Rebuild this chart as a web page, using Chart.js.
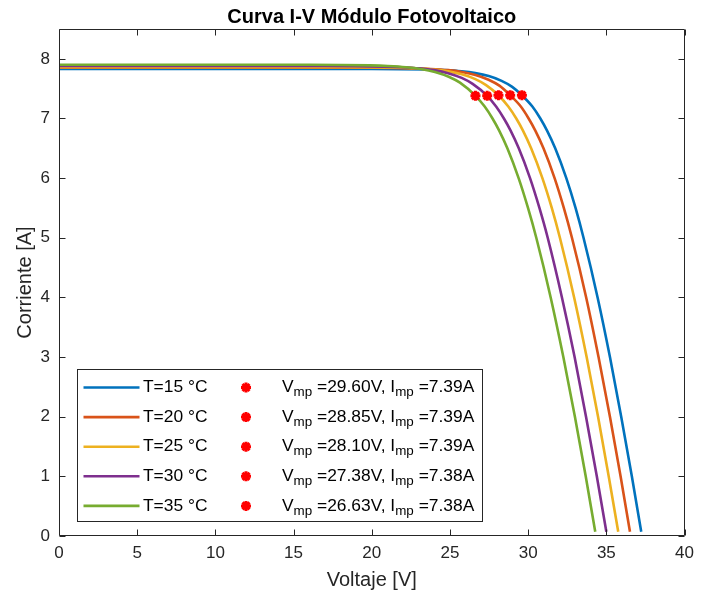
<!DOCTYPE html>
<html><head><meta charset="utf-8">
<script src="https://cdn.jsdelivr.net/npm/chart.js@4.4.1/dist/chart.umd.min.js"></script>
<style>html,body{margin:0;padding:0;background:#fff}</style>
</head><body>
<canvas id="c" width="701" height="595" style="width:701px;height:595px;display:block"></canvas>
<script>
// ---- data ----
const seriesLabels = ['T=15 °C', 'T=20 °C', 'T=25 °C', 'T=30 °C', 'T=35 °C'];
const colors = ['#0072BD', '#D95319', '#EDB120', '#7E2F8E', '#77AC30'];

const v15 = [0, 10, 20, 23.58, 24.66, 25.74, 26.62, 27.48, 28.30, 28.98, 29.60, 30.27, 30.78, 31.20, 31.73, 32.44, 33.03, 33.54, 34.44, 35.23, 35.95, 36.63, 37.23];
const i15 = [7.83, 7.83, 7.83, 7.82, 7.81, 7.79, 7.76, 7.71, 7.63, 7.53, 7.39, 7.20, 7.00, 6.80, 6.50, 6.00, 5.50, 5.00, 4.00, 3.00, 2.00, 1.00, 0.07];

const v20 = [0, 10, 20, 22.67, 23.76, 24.87, 25.76, 26.63, 27.47, 28.16, 28.85, 29.53, 30.03, 30.45, 30.98, 31.69, 32.28, 32.80, 33.71, 34.50, 35.23, 35.91, 36.51];
const i20 = [7.85, 7.85, 7.85, 7.84, 7.83, 7.81, 7.78, 7.73, 7.65, 7.55, 7.39, 7.20, 7.00, 6.80, 6.50, 6.00, 5.50, 5.00, 4.00, 3.00, 2.00, 1.00, 0.07];

const v25 = [0, 10, 18, 21.73, 22.85, 23.97, 24.88, 25.76, 26.62, 27.31, 28.10, 28.73, 29.24, 29.66, 30.19, 30.91, 31.51, 32.03, 32.94, 33.74, 34.47, 35.15, 35.76];
const i25 = [7.86, 7.86, 7.86, 7.85, 7.84, 7.82, 7.79, 7.74, 7.66, 7.56, 7.39, 7.20, 7.00, 6.80, 6.50, 6.00, 5.50, 5.00, 4.00, 3.00, 2.00, 1.00, 0.07];

const v30 = [0, 10, 17, 20.78, 21.91, 23.05, 23.98, 24.88, 25.75, 26.45, 27.38, 27.95, 28.45, 28.87, 29.40, 30.12, 30.72, 31.25, 32.16, 32.97, 33.70, 34.39, 35.00];
const i30 = [7.88, 7.88, 7.88, 7.87, 7.86, 7.84, 7.81, 7.76, 7.68, 7.58, 7.38, 7.20, 7.00, 6.80, 6.50, 6.00, 5.50, 5.00, 4.00, 3.00, 2.00, 1.00, 0.07];

const v35 = [0, 10, 16, 19.88, 21.03, 22.19, 23.13, 24.04, 24.92, 25.64, 26.63, 27.22, 27.72, 28.14, 28.67, 29.39, 29.99, 30.52, 31.44, 32.25, 32.99, 33.68, 34.29];
const i35 = [7.90, 7.90, 7.90, 7.89, 7.88, 7.86, 7.83, 7.78, 7.70, 7.60, 7.38, 7.20, 7.00, 6.80, 6.50, 6.00, 5.50, 5.00, 4.00, 3.00, 2.00, 1.00, 0.07];

const vmp = [29.60, 28.85, 28.10, 27.38, 26.63];
const imp = [7.39, 7.39, 7.39, 7.38, 7.38];

const xTicks = [0, 5, 10, 15, 20, 25, 30, 35, 40];
const yTicks = [0, 1, 2, 3, 4, 5, 6, 7, 8];

const titleText = 'Curva I-V Módulo Fotovoltaico';
const xTitle = 'Voltaje [V]';
const yTitle = 'Corriente [A]';

// ---- build datasets ----
const FONT = "'Liberation Sans', Arial, Helvetica, sans-serif";
const AXC = '#262626';
const markerColor = '#FF0000';
const curves = [[v15, i15], [v20, i20], [v25, i25], [v30, i30], [v35, i35]];

const datasets = [];
curves.forEach((c, k) => {
  datasets.push({
    label: seriesLabels[k],
    data: c[0].map((v, j) => ({x: v, y: c[1][j]})),
    showLine: true,
    borderColor: colors[k],
    backgroundColor: colors[k],
    borderWidth: 2.6,
    pointRadius: 0,
    cubicInterpolationMode: 'monotone',
    order: 5 - k
  });
});
vmp.forEach((v, k) => {
  datasets.push({
    label: 'mpp' + k,
    data: [{x: v, y: imp[k]}],
    showLine: false,
    pointStyle: 'star',
    pointRadius: 5,
    borderWidth: 3,
    borderColor: markerColor,
    backgroundColor: markerColor,
    order: 0
  });
});

function drawStar(ctx, x, y, r, lw, color) {
  ctx.save();
  ctx.strokeStyle = color; ctx.lineWidth = lw; ctx.lineCap = 'butt';
  ctx.beginPath();
  for (let a = 0; a < 4; a++) {
    const ang = a * Math.PI / 4;
    ctx.moveTo(x - r * Math.cos(ang), y - r * Math.sin(ang));
    ctx.lineTo(x + r * Math.cos(ang), y + r * Math.sin(ang));
  }
  ctx.stroke();
  ctx.restore();
}

const framePlugin = {
  id: 'frame',
  afterDatasetsDraw(chart) {
    const {ctx, chartArea: a, scales: {x, y}} = chart;
    ctx.save();
    ctx.strokeStyle = AXC; ctx.lineWidth = 1;
    const L = Math.round(a.left) + 0.5, R = Math.round(a.right) - 0.5;
    const T = Math.round(a.top) + 0.5, B = Math.round(a.bottom) - 0.5;
    ctx.beginPath();
    ctx.rect(L, T, R - L, B - T);
    const tl = 6;
    xTicks.forEach(v => {
      const px = Math.round(x.getPixelForValue(v)) + 0.5;
      ctx.moveTo(px, B); ctx.lineTo(px, B - tl);
      ctx.moveTo(px, T); ctx.lineTo(px, T + tl);
    });
    yTicks.forEach(v => {
      const py = Math.round(y.getPixelForValue(v)) + 0.5;
      ctx.moveTo(L, py); ctx.lineTo(L + tl, py);
      ctx.moveTo(R, py); ctx.lineTo(R - tl, py);
    });
    ctx.stroke();

    // title
    ctx.fillStyle = '#000';
    ctx.font = 'bold 20px ' + FONT;
    ctx.textAlign = 'center'; ctx.textBaseline = 'alphabetic';
    ctx.fillText(titleText, (a.left + a.right) / 2, 23);

    // legend
    const bx = 77.5, by = 369.5, bw = 405, bh = 152;
    ctx.fillStyle = '#fff';
    ctx.fillRect(bx, by, bw, bh);
    ctx.strokeStyle = AXC; ctx.lineWidth = 1;
    ctx.strokeRect(bx, by, bw, bh);
    const rowY0 = 387.5, rowStep = 29.6;
    const mainF = '17.4px ' + FONT, subF = '13.4px ' + FONT;
    ctx.textAlign = 'left'; ctx.textBaseline = 'middle';
    seriesLabels.forEach((lab, k) => {
      const cy = rowY0 + k * rowStep;
      ctx.strokeStyle = colors[k]; ctx.lineWidth = 2.6;
      ctx.beginPath(); ctx.moveTo(83.5, cy); ctx.lineTo(139.5, cy); ctx.stroke();
      ctx.fillStyle = '#000'; ctx.font = mainF;
      ctx.fillText(lab, 143, cy);
      drawStar(ctx, 246, cy, 5, 3, markerColor);
      let tx = 282;
      const parts = [
        ['V', mainF, 0], ['mp', subF, 5], [' =' + vmp[k].toFixed(2) + 'V, ', mainF, 0],
        ['I', mainF, 0], ['mp', subF, 5], [' =' + imp[k].toFixed(2) + 'A', mainF, 0]
      ];
      parts.forEach(p => {
        ctx.font = p[1];
        ctx.fillText(p[0], tx, cy + p[2]);
        tx += ctx.measureText(p[0]).width;
      });
    });
    ctx.restore();
  }
};

Chart.defaults.font.family = FONT;
new Chart(document.getElementById('c'), {
  type: 'scatter',
  data: {datasets},
  options: {
    responsive: false,
    animation: false,
    devicePixelRatio: 1,
    layout: {padding: {top: 29, right: 13, left: 0, bottom: 0}},
    plugins: {legend: {display: false}, title: {display: false}, tooltip: {enabled: false}},
    scales: {
      x: {
        type: 'linear', min: 0, max: 40,
        afterBuildTicks: s => { s.ticks = xTicks.map(v => ({value: v})); },
        afterFit: s => { s.height = 59; },
        grid: {display: false, drawTicks: false, tickLength: 0}, border: {display: false},
        ticks: {color: AXC, font: {size: 17}, padding: 7, maxRotation: 0, autoSkip: false},
        title: {display: true, text: xTitle, color: AXC, font: {size: 20}, padding: {top: 0, bottom: 3}}
      },
      y: {
        type: 'linear', min: 0, max: 8.5,
        afterBuildTicks: s => { s.ticks = yTicks.map(v => ({value: v})); },
        afterFit: s => { s.width = 59; },
        grid: {display: false, drawTicks: false, tickLength: 0}, border: {display: false},
        ticks: {color: AXC, font: {size: 17}, padding: 9, autoSkip: false},
        title: {display: true, text: yTitle, color: AXC, font: {size: 20}, padding: {top: 13, bottom: 0}}
      }
    }
  },
  plugins: [framePlugin]
});
</script>
</body></html>
